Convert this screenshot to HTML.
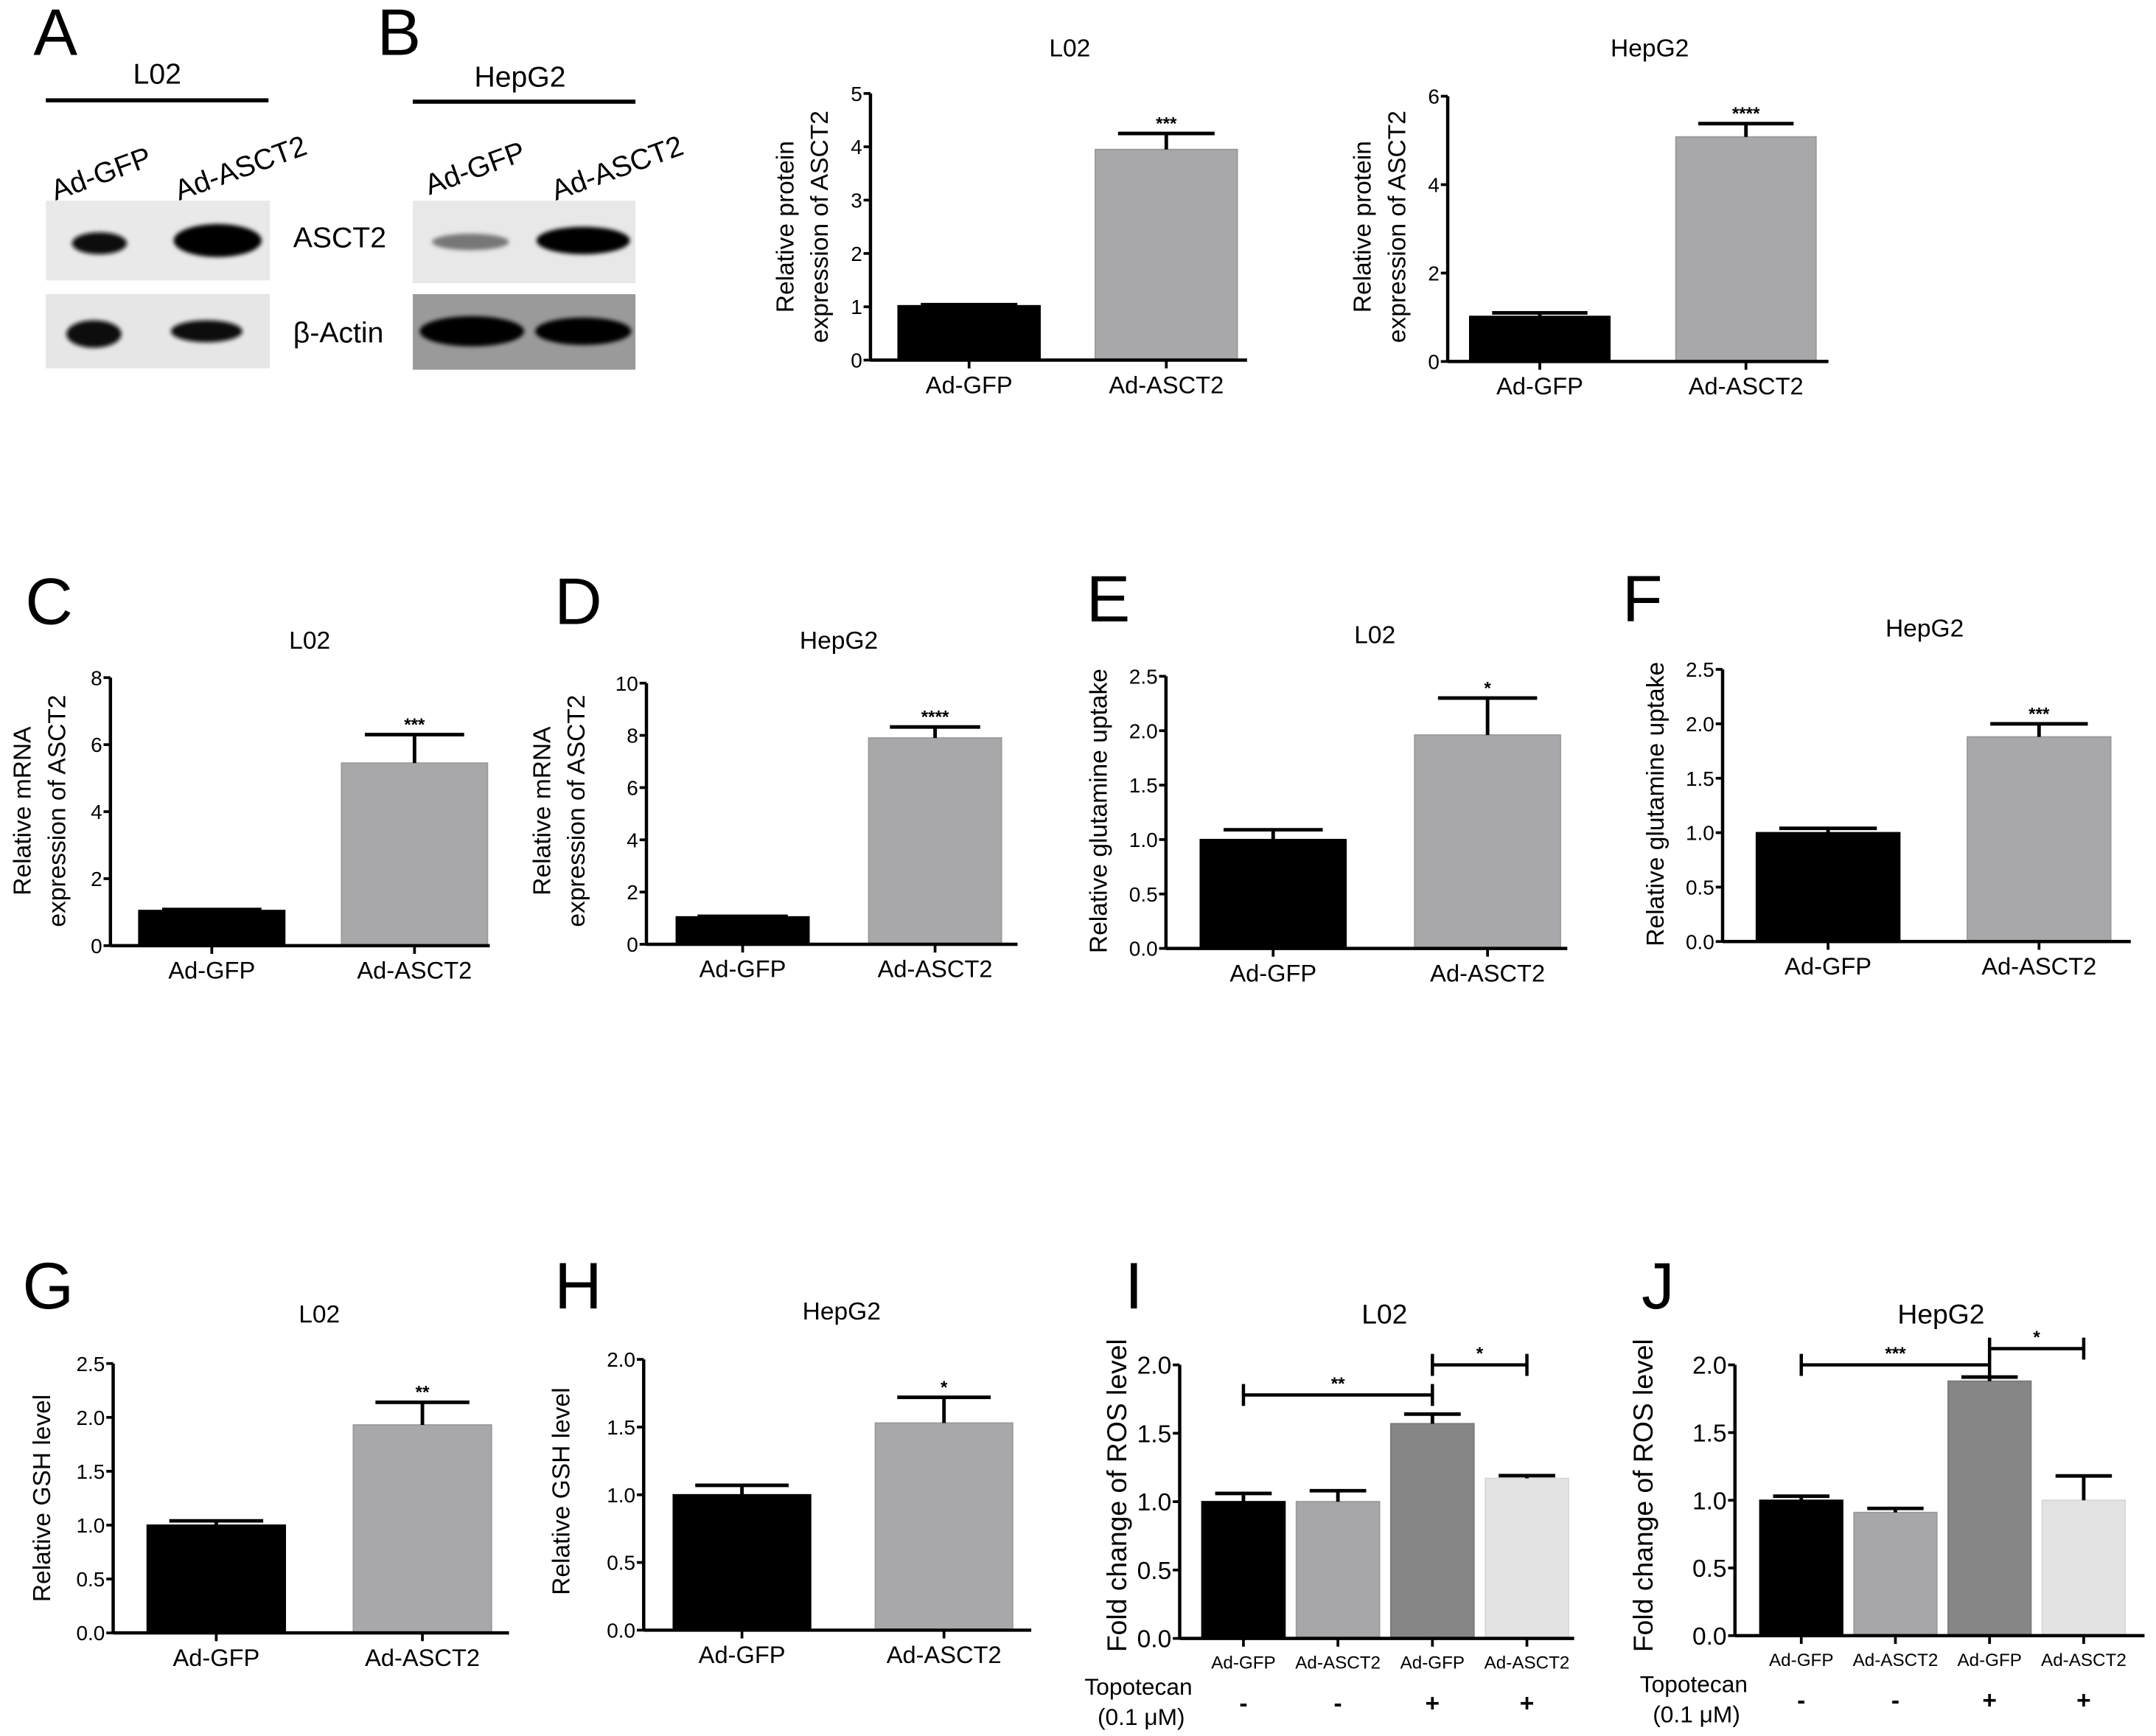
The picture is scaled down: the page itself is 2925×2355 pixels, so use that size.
<!DOCTYPE html>
<html><head><meta charset="utf-8"><style>
html,body{margin:0;padding:0;background:#fff;}
svg{display:block;font-family:"Liberation Sans",Arial,sans-serif;}
</style></head><body>
<svg id="fig" width="2925" height="2355" viewBox="0 0 1568 1263" xmlns="http://www.w3.org/2000/svg">
<defs>
<filter id="blur1" x="-20%" y="-50%" width="140%" height="200%"><feGaussianBlur stdDeviation="1.5"/></filter>
</defs>
<g>
<text x="24" y="40" font-size="48">A</text>
<text x="114" y="61" font-size="21" text-anchor="middle">L02</text>
<line x1="33" y1="73" x2="195" y2="73" stroke="#000" stroke-width="3"/>
<text transform="translate(40,146) rotate(-20)" font-size="21">Ad-GFP</text>
<text transform="translate(130,146) rotate(-20)" font-size="21">Ad-ASCT2</text>
<rect x="33" y="146" width="163" height="58" fill="#e9e9e9"/>
<ellipse cx="72" cy="177" rx="20" ry="8" fill="#111" filter="url(#blur1)"/>
<ellipse cx="158" cy="175" rx="32" ry="12" fill="#000" filter="url(#blur1)"/>
<rect x="33" y="214" width="163" height="54" fill="#e6e6e6"/>
<ellipse cx="68" cy="243" rx="20" ry="10" fill="#111" filter="url(#blur1)"/>
<ellipse cx="150" cy="241" rx="26" ry="8" fill="#111" filter="url(#blur1)"/>
<text x="213" y="180" font-size="21">ASCT2</text>
<text x="213" y="249" font-size="21">β-Actin</text>
</g>
<g>
<text x="274" y="40" font-size="48">B</text>
<text x="378" y="63" font-size="21" text-anchor="middle">HepG2</text>
<line x1="300" y1="74" x2="462" y2="74" stroke="#000" stroke-width="3"/>
<text transform="translate(312,142) rotate(-20)" font-size="21">Ad-GFP</text>
<text transform="translate(404,146) rotate(-20)" font-size="21">Ad-ASCT2</text>
<rect x="300" y="146" width="162" height="60" fill="#e8e8e8"/>
<ellipse cx="342" cy="176" rx="28" ry="6" fill="#777" filter="url(#blur1)"/>
<ellipse cx="424" cy="175" rx="34" ry="10" fill="#000" filter="url(#blur1)"/>
<rect x="300" y="214" width="162" height="55" fill="#9a9a9a"/>
<ellipse cx="343" cy="241" rx="38" ry="11" fill="#000" filter="url(#blur1)"/>
<ellipse cx="424" cy="241" rx="35" ry="10" fill="#000" filter="url(#blur1)"/>
</g>
<text x="18" y="454" font-size="48">C</text>
<text x="403" y="454" font-size="48">D</text>
<text x="790" y="452" font-size="48">E</text>
<text x="1180" y="452" font-size="48">F</text>
<text x="16" y="952" font-size="48">G</text>
<text x="403" y="952" font-size="48">H</text>
<text x="818" y="952" font-size="48">I</text>
<text x="1194" y="952" font-size="48">J</text>
<g id="charts"></g>
</svg>
<script>
// ---- data arrays ----
const cats2 = ["Ad-GFP", "Ad-ASCT2"];
const cats4 = ["Ad-GFP", "Ad-ASCT2", "Ad-GFP", "Ad-ASCT2"];
const topoSigns = ["-", "-", "+", "+"];
const bL02Vals = [1.02, 3.95];   const bL02Err = [0.02, 0.3];   const bL02Sig = ["", "***"];
const bHepVals = [1.02, 5.08];   const bHepErr = [0.08, 0.3];   const bHepSig = ["", "****"];
const cVals = [1.05, 5.45];      const cErr = [0.03, 0.85];     const cSig = ["", "***"];
const dVals = [1.05, 7.9];       const dErr = [0.02, 0.42];     const dSig = ["", "****"];
const eVals = [1.0, 1.96];       const eErr = [0.09, 0.34];     const eSig = ["", "*"];
const fVals = [1.0, 1.88];       const fErr = [0.04, 0.12];     const fSig = ["", "***"];
const gVals = [1.0, 1.93];       const gErr = [0.04, 0.21];     const gSig = ["", "**"];
const hVals = [1.0, 1.53];       const hErr = [0.07, 0.19];     const hSig = ["", "*"];
const iVals = [1.0, 1.0, 1.57, 1.17]; const iErr = [0.06, 0.08, 0.07, 0.02];
const jVals = [1.0, 0.91, 1.88, 1.0]; const jErr = [0.03, 0.03, 0.03, 0.18];
const iBrackets = [[0, 2, 1.78, "**"], [2, 3, 2.0, "*"]];
const jBrackets = [[0, 2, 2.0, "***"], [2, 3, 2.12, "*"]];
const ticks5 = [0,1,2,3,4,5];
const ticks6 = [0,2,4,6];
const ticks8 = [0,2,4,6,8];
const ticks10 = [0,2,4,6,8,10];
const ticks25 = [0,0.5,1,1.5,2,2.5];
const ticks20 = [0,0.5,1,1.5,2];

const NS = "http://www.w3.org/2000/svg";
const root = document.getElementById("charts");
function mk(tag, attrs, parent, txt){
  const e = document.createElementNS(NS, tag);
  for (const k in attrs) e.setAttribute(k, attrs[k]);
  if (txt !== undefined) e.textContent = txt;
  (parent || root).appendChild(e);
  return e;
}
function chart(cfg){
  const g = mk("g", {});
  
  
  const ymax = cfg.ticks[cfg.ticks.length-1];
  const y = v => cfg.y0 - (v / ymax) * (cfg.y0 - cfg.yTop);
  const n = cfg.cats.length;
  const bw = (cfg.r1 - cfg.r0) / n;
  const x = i => cfg.r0 + (i + 0.5) * bw;
  const barW = bw * cfg.barFrac;
  const t = mk("text", {x: cfg.titleX, y: cfg.titleY, "font-size": cfg.titleSize, "text-anchor": "middle"}, g, cfg.title);
  
  
  cfg.ylabel.forEach((ln, k) => {
    const lx = cfg.ylX + k * cfg.ylGap;
    const yl = mk("text", {x: 0, y: 0, "font-size": cfg.ylSize, "text-anchor": "middle", transform: `translate(${lx},${cfg.ylY}) rotate(-90)`}, g, ln);
    
    
  });
  cfg.vals.forEach((v, i) => {
    const cx = x(i);
    const r = mk("rect", {x: cx - barW/2, y: y(v), width: barW, height: cfg.y0 - y(v), fill: cfg.colors[i], stroke: cfg.strokes[i], "stroke-width": 1}, g);
    
    
    const e = cfg.errs[i];
    const et = y(v + e);
    const cap = barW * 0.34;
    const eb = mk("path", {d: `M${cx},${y(v)} V${et} M${cx-cap},${et} H${cx+cap}`, stroke: "#000", "stroke-width": 2.6, fill: "none"}, g);
    
    
    if (cfg.sig && cfg.sig[i]) {
      const s = mk("text", {x: cx, y: et - 3, "font-size": 13, "text-anchor": "middle", "font-weight": "bold"}, g, cfg.sig[i]);
      
      
    }
  });
  const ax = mk("path", {d: `M${cfg.x0},${cfg.yTop} V${cfg.y0} M${cfg.x0},${cfg.y0} H${cfg.xEnd}`, stroke: "#000", "stroke-width": 2.4, fill: "none"}, g);
  
  
  cfg.ticks.forEach(tv => {
    mk("line", {x1: cfg.x0 - 5, x2: cfg.x0, y1: y(tv), y2: y(tv), stroke: "#000", "stroke-width": 2}, g);
    const tl = mk("text", {x: cfg.x0 - 6, y: y(tv) + cfg.tickSize*0.36, "font-size": cfg.tickSize, "text-anchor": "end"}, g, tv.toFixed(cfg.dec));
    
    
  });
  cfg.cats.forEach((c, i) => {
    mk("line", {x1: x(i), x2: x(i), y1: cfg.y0, y2: cfg.y0 + 6, stroke: "#000", "stroke-width": 2}, g);
    const cl = mk("text", {x: x(i), y: cfg.y0 + cfg.catDy, "font-size": cfg.catSize, "text-anchor": "middle"}, g, c);
    
    
  });
  if (cfg.brackets) {
    cfg.brackets.forEach(b => {
      const x1 = x(b[0]), x2 = x(b[1]), by = y(b[2]);
      const br = mk("path", {d: `M${x1},${by-8} V${by+8} M${x1},${by} H${x2} M${x2},${by-8} V${by+8}`, stroke: "#000", "stroke-width": 2.4, fill: "none"}, g);
      
      
      const bs = mk("text", {x: (x1+x2)/2, y: by - 4, "font-size": 13, "text-anchor": "middle", "font-weight": "bold"}, g, b[3]);
      
      
    });
    const tp = mk("text", {x: cfg.x0 - 30, y: cfg.y0 + 41, "font-size": 17, "text-anchor": "middle"}, g, "Topotecan");
    
    
    const tc = mk("text", {x: cfg.x0 - 28, y: cfg.y0 + 63, "font-size": 17, "text-anchor": "middle"}, g, "(0.1 μM)");
    
    
    topoSigns.forEach((s, i) => {
      const sg = mk("text", {x: x(i), y: cfg.y0 + 53, "font-size": 18, "text-anchor": "middle", "font-weight": "bold"}, g, s);
      
      
    });
  }
}
const K = "#000", GR = "#a8a8ab", GS = "#9a9a9c";
const base2 = {cats: cats2, colors: [K, GR], strokes: [K, GS], barFrac: 0.72, tickSize: 15, catSize: 17.5, catDy: 24, ylSize: 18, ylGap: 25, titleSize: 18};
chart(Object.assign({}, base2, {name:"chart-b-l02", title:"L02", titleX:778, titleY:41, vals:bL02Vals, errs:bL02Err, sig:bL02Sig, ticks:ticks5, dec:0, x0:633, yTop:68, y0:262, xEnd:907, r0:633, r1:920, ylabel:["Relative protein","expression of ASCT2"], ylX:577, ylY:165}));
chart(Object.assign({}, base2, {name:"chart-b-hepg2", title:"HepG2", titleX:1200, titleY:41, vals:bHepVals, errs:bHepErr, sig:bHepSig, ticks:ticks6, dec:0, x0:1053, yTop:70, y0:263, xEnd:1330, r0:1045, r1:1345, barFrac:0.68, ylabel:["Relative protein","expression of ASCT2"], ylX:997, ylY:165}));
chart(Object.assign({}, base2, {name:"chart-c-mrna-l02", title:"L02", titleX:225, titleY:472, vals:cVals, errs:cErr, sig:cSig, ticks:ticks8, dec:0, x0:80, yTop:493, y0:688, xEnd:356, r0:80, r1:375, ylabel:["Relative mRNA","expression of ASCT2"], ylX:22, ylY:590}));
chart(Object.assign({}, base2, {name:"chart-d-mrna-hepg2", title:"HepG2", titleX:610, titleY:472, vals:dVals, errs:dErr, sig:dSig, ticks:ticks10, dec:0, x0:470, yTop:497, y0:687, xEnd:740, r0:470, r1:750, barFrac:0.69, ylabel:["Relative mRNA","expression of ASCT2"], ylX:400, ylY:590}));
chart(Object.assign({}, base2, {name:"chart-e-glutamine-l02", title:"L02", titleX:1000, titleY:468, vals:eVals, errs:eErr, sig:eSig, ticks:ticks25, dec:1, x0:848, yTop:492, y0:690, xEnd:1140, r0:848, r1:1160, barFrac:0.68, ylabel:["Relative glutamine uptake"], ylX:805, ylY:590}));
chart(Object.assign({}, base2, {name:"chart-f-glutamine-hepg2", title:"HepG2", titleX:1400, titleY:463, vals:fVals, errs:fErr, sig:fSig, ticks:ticks25, dec:1, x0:1253, yTop:487, y0:685, xEnd:1550, r0:1253, r1:1560, barFrac:0.68, ylabel:["Relative glutamine uptake"], ylX:1210, ylY:585}));
chart(Object.assign({}, base2, {name:"chart-g-gsh-l02", title:"L02", titleX:232, titleY:962, vals:gVals, errs:gErr, sig:gSig, ticks:ticks25, dec:1, x0:82, yTop:992, y0:1188, xEnd:370, r0:82, r1:382, barFrac:0.67, ylabel:["Relative GSH level"], ylX:36, ylY:1090}));
chart(Object.assign({}, base2, {name:"chart-h-gsh-hepg2", title:"HepG2", titleX:612, titleY:960, vals:hVals, errs:hErr, sig:hSig, ticks:ticks20, dec:1, x0:468, yTop:989, y0:1186, xEnd:750, r0:466, r1:760, barFrac:0.68, ylabel:["Relative GSH level"], ylX:414, ylY:1085}));
const base4 = {cats: cats4, colors: [K, "#a7a7aa", "#868686", "#e3e3e3"], strokes: [K, "#9a9a9c", "#7a7a7a", "#d8d8d8"], barFrac: 0.88, tickSize: 18, catSize: 13, catDy: 22, ylSize: 20, ylGap: 0, titleSize: 20};
chart(Object.assign({}, base4, {name:"chart-i-ros-l02", title:"L02", titleX:1007, titleY:963, vals:iVals, errs:iErr, brackets:iBrackets, ticks:ticks20, dec:1, x0:858, yTop:993, y0:1192, xEnd:1145, r0:870, r1:1145, ylabel:["Fold change of ROS level"], ylX:819, ylY:1088}));
chart(Object.assign({}, base4, {name:"chart-j-ros-hepg2", title:"HepG2", titleX:1412, titleY:963, vals:jVals, errs:jErr, brackets:jBrackets, ticks:ticks20, dec:1, x0:1262, yTop:993, y0:1190, xEnd:1560, r0:1276, r1:1550, ylabel:["Fold change of ROS level"], ylX:1202, ylY:1088}));
</script>
</body></html>
